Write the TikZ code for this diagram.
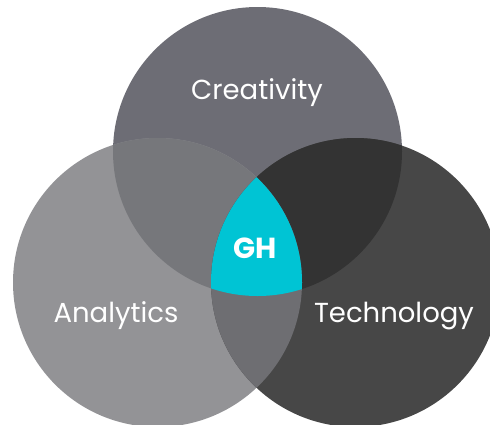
\documentclass[tikz,border=0pt]{standalone}
\usepackage{fontspec}
\setmainfont{Poppins}
\definecolor{cT}{HTML}{6D6D75}
\definecolor{cL}{HTML}{939396}
\definecolor{cR}{HTML}{474747}
\definecolor{cTL}{HTML}{76777B}
\definecolor{cTR}{HTML}{333333}
\definecolor{cLR}{HTML}{6E6E72}
\definecolor{cGH}{HTML}{00C4D4}
\tikzset{
  lbl/.style={text=white, anchor=base, inner sep=0pt, font=\fontsize{27.5}{32}\selectfont},
  ghlbl/.style={text=white, anchor=base, inner sep=0pt, font=\fontsize{29}{34}\selectfont\bfseries}
}
\begin{document}
\begin{tikzpicture}[x=1pt,y=1pt]
\useasboundingbox (0,0) rectangle (490,-424);
\def\rad{144.5}
\coordinate (T) at (257.5,-151.5);
\coordinate (L) at (157.5,-282.5);
\coordinate (R) at (355.5,-282.5);
\begin{scope}
\clip (0,0) rectangle (490,-424);
\fill[cT] (T) circle (\rad);
\fill[cL] (L) circle (\rad);
\fill[cR] (R) circle (\rad);
\begin{scope}\clip (T) circle (\rad); \fill[cTL] (L) circle (\rad); \end{scope}
\begin{scope}\clip (T) circle (\rad); \fill[cTR] (R) circle (\rad); \end{scope}
\begin{scope}\clip (L) circle (\rad); \fill[cLR] (R) circle (\rad); \end{scope}
\begin{scope}\clip (T) circle (\rad); \clip (L) circle (\rad); \fill[cGH] (R) circle (\rad); \end{scope}
\end{scope}
\node[lbl] (creat) at (257,-99) {Creativity};
\node[lbl] (anal) at (116,-322) {Analytics};
\node[lbl] (tech) at (394,-322) {Technology};
\node[ghlbl] (gh) at (255,-258) {GH};
\end{tikzpicture}
\end{document}
